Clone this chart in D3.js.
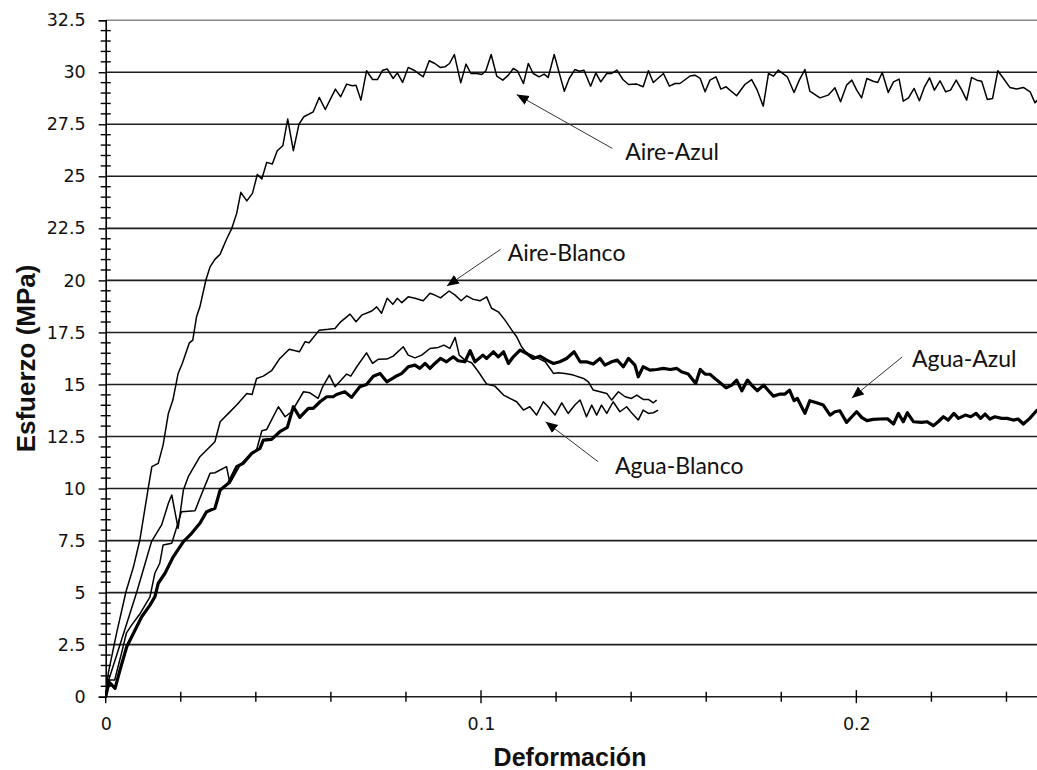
<!DOCTYPE html>
<html><head><meta charset="utf-8">
<script src="https://cdn.jsdelivr.net/npm/d3@7"></script>
<style>body{margin:0;background:#fff}svg{display:block}</style>
</head><body>
<script>
// ---- data ----
const aireAzul = [[0,0],[0.0007,1.14],[0.0029,3.05],[0.0054,5.04],[0.0074,6.24],[0.0091,7.53],[0.0114,10.09],[0.0123,11.05],[0.014,11.21],[0.0153,12.1],[0.0167,13.61],[0.0179,14.25],[0.0193,15.53],[0.0204,16.01],[0.0223,17.0],[0.0232,17.13],[0.0242,18.25],[0.0251,18.73],[0.0267,20.02],[0.0278,20.65],[0.0291,21.01],[0.0305,21.26],[0.0321,21.94],[0.0336,22.5],[0.0349,23.22],[0.036,24.23],[0.0376,23.82],[0.0391,24.18],[0.0404,25.09],[0.0416,24.87],[0.0429,25.67],[0.0444,25.59],[0.0457,26.23],[0.0472,26.47],[0.0485,27.75],[0.05,26.23],[0.0515,27.51],[0.0528,27.86],[0.0553,28.1],[0.0569,28.79],[0.0585,28.21],[0.0612,29.19],[0.0626,28.82],[0.0642,29.43],[0.0657,29.35],[0.0667,29.38],[0.068,28.66],[0.0695,30.07],[0.0711,29.65],[0.0724,29.65],[0.0738,30.1],[0.075,30.16],[0.0766,29.7],[0.0777,29.97],[0.0791,29.51],[0.0806,30.23],[0.0824,30.07],[0.0846,29.78],[0.0862,30.55],[0.0877,30.42],[0.0891,30.23],[0.0904,30.26],[0.0916,30.42],[0.0929,30.85],[0.0946,29.49],[0.096,30.39],[0.0973,29.94],[0.0989,29.94],[0.1002,29.89],[0.1013,30.07],[0.1027,30.85],[0.1042,29.81],[0.1058,29.62],[0.1073,29.86],[0.1086,30.18],[0.1097,30.07],[0.1113,29.46],[0.1126,30.42],[0.1139,29.94],[0.1155,29.78],[0.1168,29.91],[0.1179,29.75],[0.1195,30.85],[0.121,29.86],[0.1222,29.09],[0.1235,29.7],[0.125,30.13],[0.1262,30.05],[0.1274,30.1],[0.1292,29.33],[0.1306,29.97],[0.1319,29.54],[0.1335,29.94],[0.1348,29.94],[0.1362,30.1],[0.1378,29.65],[0.1393,29.41],[0.1415,29.43],[0.1432,29.3],[0.1446,30.07],[0.1459,29.51],[0.1486,29.94],[0.1502,29.33],[0.1517,29.46],[0.153,29.46],[0.1557,29.82],[0.157,29.86],[0.1584,29.7],[0.1597,29.06],[0.161,29.62],[0.1626,29.78],[0.1639,29.19],[0.1653,29.3],[0.1681,28.87],[0.1703,29.41],[0.1721,29.65],[0.1736,29.14],[0.1752,28.37],[0.1766,29.94],[0.1779,29.81],[0.1792,30.1],[0.1816,29.78],[0.1834,29.03],[0.1848,29.62],[0.1863,30.13],[0.1876,29.09],[0.1903,28.77],[0.1925,28.9],[0.1943,29.25],[0.1958,28.58],[0.1974,29.38],[0.1988,29.62],[0.2001,29.14],[0.2014,28.77],[0.2028,29.7],[0.2045,29.57],[0.2057,29.51],[0.2069,29.99],[0.2085,29.03],[0.2099,29.54],[0.2114,29.67],[0.2125,28.61],[0.2139,28.77],[0.2154,29.22],[0.2168,28.63],[0.2181,29.27],[0.2195,29.73],[0.2208,29.14],[0.2223,29.59],[0.2238,29.06],[0.2251,29.14],[0.2266,29.62],[0.2281,29.14],[0.2294,28.66],[0.2307,29.75],[0.2321,29.62],[0.2334,29.57],[0.2349,28.69],[0.2363,28.74],[0.2377,30.07],[0.2392,29.7],[0.2409,29.27],[0.2427,29.19],[0.2445,29.27],[0.2463,29.06],[0.2476,28.53],[0.2484,28.7]];

const aireBlanco = [[0,0],[0.0008,0.8],[0.0047,3.0],[0.0083,5.04],[0.0105,6.4],[0.0122,7.45],[0.0149,8.25],[0.0167,9.29],[0.0176,9.69],[0.0193,8.09],[0.0207,9.93],[0.022,10.57],[0.0251,11.53],[0.0269,11.85],[0.0291,12.25],[0.0305,13.21],[0.0327,13.61],[0.0349,14.01],[0.0376,14.57],[0.039,14.52],[0.0402,15.29],[0.042,15.4],[0.0442,15.66],[0.0464,16.25],[0.0489,16.69],[0.0516,16.57],[0.0531,17.05],[0.0542,17.0],[0.0569,17.61],[0.0593,17.65],[0.0611,17.69],[0.0626,18.01],[0.0651,18.38],[0.0667,18.01],[0.0682,18.33],[0.0709,18.53],[0.0722,18.73],[0.0735,18.42],[0.075,19.14],[0.0765,18.85],[0.0777,19.14],[0.0789,18.93],[0.0806,19.21],[0.0824,19.14],[0.0846,19.02],[0.0864,19.38],[0.0877,19.29],[0.0892,19.16],[0.0915,19.49],[0.0931,19.29],[0.0947,19.02],[0.0962,19.26],[0.0978,19.1],[0.0997,19.02],[0.1015,19.21],[0.1028,18.66],[0.1046,18.49],[0.1064,18.09],[0.1082,17.61],[0.1095,17.29],[0.1108,16.81],[0.1122,16.49],[0.1135,16.41],[0.1153,16.25],[0.1171,16.09],[0.1184,15.77],[0.1193,15.53],[0.1206,15.56],[0.1224,15.53],[0.1246,15.45],[0.1273,15.29],[0.1286,15.13],[0.1299,14.73],[0.1317,14.65],[0.1335,14.57],[0.1348,14.25],[0.1366,14.65],[0.1384,14.41],[0.1401,14.33],[0.1415,14.49],[0.1432,14.28],[0.1446,14.28],[0.1459,14.12],[0.1468,14.25]];

const aguaBlanco = [[0,0],[0.001,0.8],[0.0024,0.8],[0.0045,2.3],[0.0055,3.05],[0.0069,3.44],[0.0092,4.0],[0.0118,4.8],[0.0131,5.93],[0.0144,6.41],[0.0153,7.29],[0.0176,7.37],[0.0202,8.89],[0.0238,8.93],[0.0251,9.53],[0.0278,10.73],[0.0291,10.76],[0.0322,11.05],[0.0331,10.25],[0.0358,11.13],[0.0384,11.6],[0.0402,11.85],[0.0416,12.78],[0.0429,12.84],[0.046,13.93],[0.0478,13.45],[0.0496,13.7],[0.0527,14.65],[0.0544,14.6],[0.0566,14.33],[0.0578,14.89],[0.0596,15.45],[0.0611,14.89],[0.0642,15.5],[0.0653,15.4],[0.0669,15.85],[0.0695,16.52],[0.0711,16.01],[0.0726,16.21],[0.0749,16.22],[0.0766,16.36],[0.0793,16.81],[0.0806,16.41],[0.0824,16.28],[0.0842,16.41],[0.0864,16.73],[0.0886,16.78],[0.0901,16.89],[0.0917,16.73],[0.0931,17.26],[0.0942,16.41],[0.0957,16.17],[0.0975,16.04],[0.0993,15.61],[0.1015,15.02],[0.1037,14.92],[0.106,14.49],[0.1077,14.33],[0.1095,14.17],[0.1113,13.77],[0.113,13.93],[0.1148,13.53],[0.1166,14.17],[0.1179,13.93],[0.1197,13.53],[0.1215,14.12],[0.1232,13.61],[0.125,14.01],[0.1264,14.25],[0.1281,13.45],[0.1295,14.01],[0.1308,13.53],[0.1321,14.01],[0.1335,13.61],[0.1352,14.17],[0.137,13.69],[0.1388,13.93],[0.1401,13.64],[0.1419,13.29],[0.1432,13.77],[0.1446,13.61],[0.1459,13.64],[0.1472,13.77]];

const aguaAzul = [[0,0],[0.0009,0.7],[0.0025,0.4],[0.0038,1.28],[0.0056,2.4],[0.0074,3.05],[0.0096,3.84],[0.0118,4.4],[0.0131,4.8],[0.014,5.45],[0.0158,5.93],[0.018,6.72],[0.0207,7.45],[0.0229,7.85],[0.0251,8.33],[0.0269,8.89],[0.0291,9.05],[0.0305,9.93],[0.0327,10.25],[0.0349,11.05],[0.0366,11.21],[0.0389,11.69],[0.0411,11.93],[0.042,12.33],[0.0442,12.36],[0.0464,12.73],[0.0484,12.94],[0.05,13.93],[0.0517,13.42],[0.054,13.85],[0.0553,13.85],[0.0571,14.17],[0.0589,14.41],[0.0606,14.41],[0.0615,14.52],[0.0637,14.65],[0.0655,14.38],[0.0677,14.89],[0.0695,15.0],[0.0713,15.4],[0.0731,15.53],[0.0749,15.13],[0.0771,15.37],[0.0789,15.53],[0.0806,15.85],[0.0824,15.93],[0.0837,15.77],[0.0851,16.01],[0.0864,15.77],[0.0877,16.01],[0.0892,16.25],[0.0908,16.09],[0.0926,16.33],[0.0939,16.14],[0.0957,16.09],[0.0971,16.62],[0.0984,16.09],[0.1005,16.41],[0.1015,16.25],[0.1033,16.57],[0.1046,16.33],[0.106,16.57],[0.1073,16.01],[0.1086,16.33],[0.1104,16.65],[0.1122,16.49],[0.1139,16.25],[0.1157,16.36],[0.1175,16.17],[0.1193,16.01],[0.121,16.09],[0.1228,16.25],[0.1248,16.57],[0.1264,16.09],[0.1281,16.09],[0.1299,15.98],[0.1317,16.25],[0.133,15.93],[0.1348,16.09],[0.1363,16.17],[0.1379,15.85],[0.1393,16.25],[0.141,15.93],[0.1419,15.37],[0.1432,15.85],[0.145,15.69],[0.1468,15.72],[0.1486,15.77],[0.1504,15.72],[0.1522,15.77],[0.1534,15.61],[0.1552,15.5],[0.1572,15.05],[0.1584,15.72],[0.1597,15.5],[0.161,15.49],[0.1628,15.21],[0.1653,14.84],[0.1668,14.97],[0.1681,15.21],[0.1695,14.7],[0.171,15.21],[0.1721,14.97],[0.1736,14.7],[0.1753,14.97],[0.1766,14.7],[0.1779,14.44],[0.1797,14.54],[0.181,14.54],[0.1822,14.73],[0.1834,14.22],[0.1843,14.33],[0.1863,13.61],[0.1876,14.22],[0.1894,14.12],[0.1912,14.01],[0.193,13.53],[0.1943,13.69],[0.1956,13.74],[0.1974,13.18],[0.1988,13.45],[0.2001,13.69],[0.2014,13.42],[0.2028,13.26],[0.2045,13.32],[0.2063,13.34],[0.2083,13.35],[0.2099,13.1],[0.2112,13.61],[0.2125,13.21],[0.2136,13.64],[0.2152,13.21],[0.2174,13.18],[0.2188,13.21],[0.2205,13.02],[0.2218,13.21],[0.2232,13.45],[0.2245,13.29],[0.226,13.61],[0.2272,13.37],[0.229,13.53],[0.2305,13.45],[0.2319,13.61],[0.2331,13.37],[0.2343,13.58],[0.2356,13.34],[0.2369,13.45],[0.2387,13.37],[0.2402,13.37],[0.2418,13.29],[0.2431,13.34],[0.2445,13.1],[0.2462,13.37],[0.248,13.74],[0.2495,13.9]];

const yMajorTicks = [0,2.5,5,7.5,10,12.5,15,17.5,20,22.5,25,27.5,30,32.5];
const yTickLabels = ["0","2.5","5","7.5","10","12.5","15","17.5","20","22.5","25","27.5","30","32.5"];
const xMajorTicks = [0,0.1,0.2];
const xTickLabels = ["0","0.1","0.2"];
const xMinorStep = 0.02;
const yMinorStep = 0.5;
const xTitle = "Deformación";
const yTitle = "Esfuerzo (MPa)";

// annotations: label, text anchor point, arrow start, arrow tip (data units)
const annotLabels = ["Aire-Azul","Aire-Blanco","Agua-Azul","Agua-Blanco"];
const annotText  = [[0.1384,25.79],[0.1071,20.95],[0.2148,15.82],[0.1357,10.7]];
const annotFrom  = [[0.135,26.34],[0.1052,21.49],[0.2122,16.32],[0.1312,11.29]];
const annotTo    = [[0.1095,28.93],[0.0909,19.73],[0.1988,14.35],[0.1172,13.21]];

// ---- chart ----
const W = 1037, H = 770;
const svg = d3.select("body").append("svg").attr("width", W).attr("height", H);
const x = d3.scaleLinear().domain([0, 0.25]).range([105.7, 1044]);
const y = d3.scaleLinear().domain([0, 32.5]).range([696.7, 20.2]);

svg.append("defs").append("clipPath").attr("id","plot")
  .append("rect").attr("x", x(0)).attr("y", y(32.5)-3).attr("width", x(0.25)-x(0)).attr("height", y(0)-y(32.5)+6);
const marker = svg.select("defs").append("marker").attr("id","arr")
  .attr("viewBox","0 0 10 10").attr("refX",10).attr("refY",5)
  .attr("markerWidth",12).attr("markerHeight",12).attr("markerUnits","userSpaceOnUse")
  .attr("orient","auto");
marker.append("path").attr("d","M0,0.8 L10,5 L0,9.2 Z").attr("fill","#000");

// gridlines
svg.append("g").selectAll("line").data(yMajorTicks).join("line")
  .attr("x1", x(0)).attr("x2", x(0.25))
  .attr("y1", d => y(d)).attr("y2", d => y(d))
  .attr("stroke", d => d === 32.5 ? "#8a8a8a" : "#1e1e1e").attr("stroke-width", 1.6);

// y axis (major ticks + labels)
const yAxis = d3.axisLeft(y).tickValues(yMajorTicks).tickSize(7).tickPadding(13)
  .tickFormat((d,i) => yTickLabels[i]);
const gy = svg.append("g").attr("transform", `translate(${x(0)},0)`).call(yAxis);
gy.attr("font-family", null).attr("font-size", null);
gy.select(".domain").attr("stroke","#000").attr("stroke-width",1.6);
gy.selectAll(".tick line").attr("stroke","#000").attr("stroke-width",1.4);
gy.selectAll(".tick text").style("font-family","'DejaVu Sans', Verdana, sans-serif").style("font-size","17.5px").attr("fill","#111");

// y minor crossing ticks
const yMinor = d3.range(0, 32.5 + 1e-9, yMinorStep).filter(v => Math.abs(v/2.5 - Math.round(v/2.5)) > 1e-6);
svg.append("g").selectAll("line").data(yMinor).join("line")
  .attr("x1", x(0) - 5).attr("x2", x(0) + 5)
  .attr("y1", d => y(d)).attr("y2", d => y(d))
  .attr("stroke","#000").attr("stroke-width",1.4);

// x axis ticks (crossing)
const xAll = d3.range(0, 0.25 + 1e-9, xMinorStep);
const isMajor = d => xMajorTicks.some(m => Math.abs(m-d) < 1e-9);
svg.append("g").selectAll("line").data(xAll).join("line")
  .attr("x1", d => x(d)).attr("x2", d => x(d))
  .attr("y1", d => y(0) - (isMajor(d) ? 6.5 : 5))
  .attr("y2", d => y(0) + (isMajor(d) ? 6.5 : 5))
  .attr("stroke","#000").attr("stroke-width",1.4);
const xAxis = d3.axisBottom(x).tickValues(xMajorTicks).tickSize(0).tickPadding(21)
  .tickFormat((d,i) => xTickLabels[i]);
const gx = svg.append("g").attr("transform", `translate(0,${y(0)})`).call(xAxis);
gx.attr("font-family", null).attr("font-size", null);
gx.select(".domain").remove();
gx.selectAll(".tick text").style("font-family","'DejaVu Sans', Verdana, sans-serif").style("font-size","17.5px").attr("fill","#111");

// series
const line = d3.line().x(d => x(d[0])).y(d => y(d[1]));
const plot = svg.append("g").attr("clip-path","url(#plot)");
const series = [
  {data: aireAzul, w: 1.5},
  {data: aireBlanco, w: 1.5},
  {data: aguaBlanco, w: 1.5},
  {data: aguaAzul, w: 3.2}
];
plot.selectAll("path").data(series).join("path")
  .attr("d", d => line(d.data)).attr("fill","none")
  .attr("stroke","#000").attr("stroke-width", d => d.w)
  .attr("stroke-linejoin","round");

// annotations
const ann = svg.append("g");
annotLabels.forEach((lab, i) => {
  ann.append("line")
    .attr("x1", x(annotFrom[i][0])).attr("y1", y(annotFrom[i][1]))
    .attr("x2", x(annotTo[i][0])).attr("y2", y(annotTo[i][1]))
    .attr("stroke","#333").attr("stroke-width",1).attr("marker-end","url(#arr)");
  ann.append("text").attr("x", x(annotText[i][0])).attr("y", y(annotText[i][1]))
    .attr("font-family","Lato").attr("font-size",23).attr("fill","#111").text(lab);
});

// axis titles
svg.append("text").attr("x", 570).attr("y", 766)
  .attr("text-anchor","middle").attr("font-family","Liberation Sans").attr("font-weight","bold")
  .attr("font-size",25).attr("fill","#111").text(xTitle);
svg.append("text").attr("transform", `translate(35,${(y(0)+y(32.5))/2}) rotate(-90)`)
  .attr("text-anchor","middle").attr("font-family","Liberation Sans").attr("font-weight","bold")
  .attr("font-size",26).attr("fill","#111").text(yTitle);
</script>
</body></html>
